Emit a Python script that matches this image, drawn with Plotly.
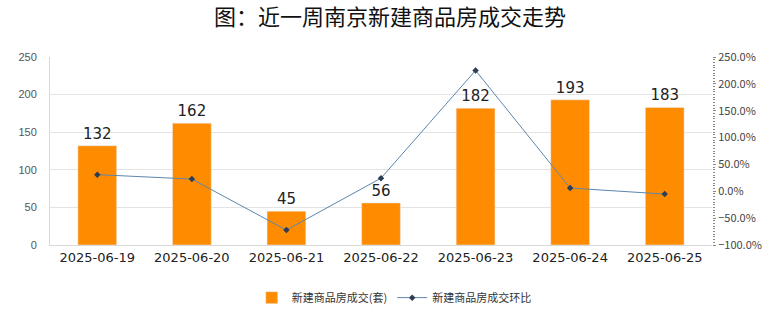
import plotly.graph_objects as go

dates = ["2025-06-19", "2025-06-20", "2025-06-21", "2025-06-22", "2025-06-23", "2025-06-24", "2025-06-25"]
deals = [132, 162, 45, 56, 182, 193, 183]
mom_pct = [31.0, 22.7, -72.2, 24.4, 225.0, 6.0, -5.2]

bar_name = "新建商品房成交(套)"
line_name = "新建商品房成交环比"
title = "图：近一周南京新建商品房成交走势"

font_cjk = "Noto Sans CJK SC, Noto Sans, sans-serif"

fig = go.Figure()
fig.add_trace(go.Bar(
    x=dates, y=deals, name=bar_name,
    marker=dict(color="#FF8C00"),
    width=0.41,
    text=[str(v) for v in deals], textposition="outside",
    textfont=dict(size=15, color="#222222", family="DejaVu Sans, sans-serif"),
    cliponaxis=False,
))
fig.add_trace(go.Scatter(
    x=dates, y=mom_pct, name=line_name, yaxis="y2",
    mode="lines+markers",
    line=dict(color="#5b86ad", width=1),
    marker=dict(symbol="diamond", size=5, color="#2c3e55"),
))

fig.update_layout(
    width=780, height=328,
    margin=dict(l=50, r=68, t=57, b=83, autoexpand=False),
    paper_bgcolor="white", plot_bgcolor="white",
    title=dict(text=title, x=0.5, xanchor="center", y=0.948, yanchor="middle",
               font=dict(size=22, color="#111111", family=font_cjk)),
    showlegend=True,
    legend=dict(orientation="h", x=0.52, xanchor="center", y=-0.28, yanchor="middle",
                font=dict(size=11, color="#333333", family=font_cjk),
                itemwidth=30),
    bargap=0.59,
    xaxis=dict(
        type="category", showgrid=False, showline=True, linecolor="#d9d9d9",
        ticks="", tickfont=dict(size=13, color="#222222", family="DejaVu Sans, sans-serif"),
    ),
    yaxis=dict(
        range=[0, 250], dtick=50, showgrid=True, gridcolor="#e3e3e3",
        showline=True, linecolor="#d9d9d9", zeroline=False,
        tickfont=dict(size=11, color="#555555", family="Liberation Sans, Arial, sans-serif"),
        ticklabelstandoff=10,
    ),
    yaxis2=dict(
        overlaying="y", side="right", range=[-100, 250], dtick=50,
        tickformat=".1f", ticksuffix="%", showgrid=False, zeroline=False,
        showline=False, ticks="outside", ticklen=3, tickcolor="#888888",
        minor=dict(ticks="outside", ticklen=2, dtick=5, tickcolor="#888888"),
        tickfont=dict(size=11, color="#444444", family="Noto Sans CJK SC, sans-serif"),
    ),
)

fig.write_html("out.html")
